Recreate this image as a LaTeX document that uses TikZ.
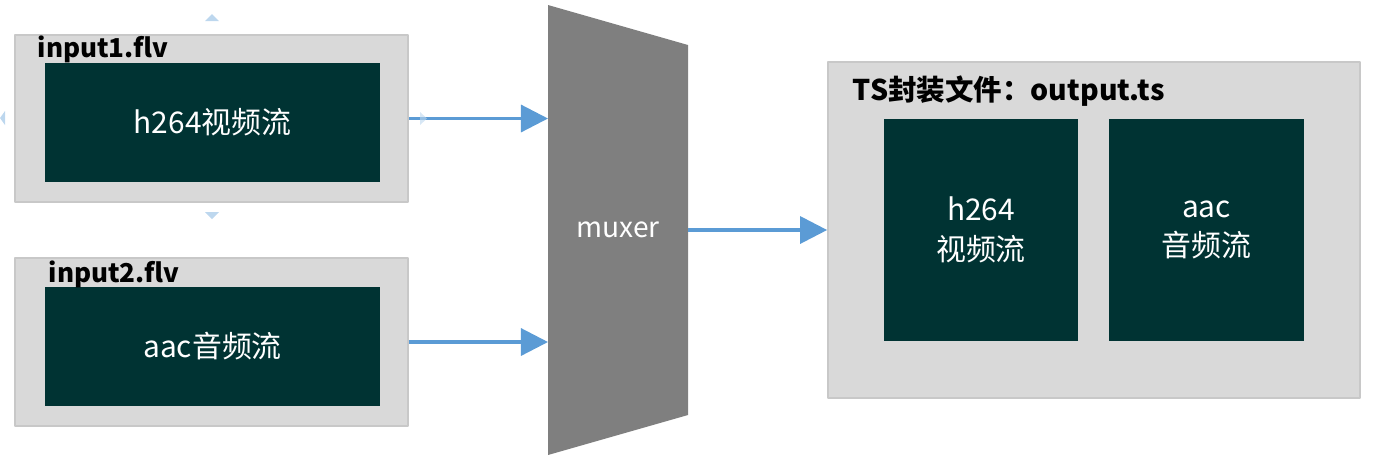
\documentclass[tikz,border=0pt]{standalone}
\usepackage{fontspec}
\setmainfont{Noto Sans CJK SC}
\usetikzlibrary{arrows.meta,positioning}
\definecolor{boxgray}{HTML}{D9D9D9}
\definecolor{edgegray}{HTML}{C8C8C8}
\definecolor{deepteal}{HTML}{003333}
\definecolor{muxgray}{HTML}{7F7F7F}
\definecolor{flowblue}{HTML}{5B9BD5}
\definecolor{handleblue}{HTML}{BDD7EE}
\tikzset{
  every picture/.style={line join=round, >=Stealth},
  filebox/.style={draw=edgegray, fill=boxgray, line width=0.4pt, inner sep=0pt},
  streambox/.style={fill=deepteal, text=white, inner sep=0pt, align=center, font=\fontsize{8.5}{11.3}\selectfont},
  filelabel/.style={font=\fontsize{7.4}{8}\selectfont\bfseries, inner sep=0pt, anchor=base west},
  flow/.style={-{Triangle[length=0.27cm,width=0.27cm]}, draw=flowblue, line width=0.9pt},
  handle/.style={fill=handleblue, draw=none},
}

\begin{document}
\begin{tikzpicture}[x=0.01cm,y=-0.01cm]
\useasboundingbox (0,0) rectangle (1380,460);
% input files
\node[filebox, minimum width=3.93cm, minimum height=1.67cm] (in1) at (211.5,118.5) {};
\node[streambox, minimum width=3.35cm, minimum height=1.19cm] (vid1) at (212.5,122.5) {h264视频流};
\node[filelabel] (lab1) at (37,57) {input1.flv};
\node[filebox, minimum width=3.93cm, minimum height=1.68cm] (in2) at (211.5,342) {};
\node[streambox, minimum width=3.35cm, minimum height=1.19cm] (aud1) at (212.5,346.5) {aac音频流};
\node[filelabel] (lab2) at (48,282) {input2.flv};
% selection handles
\fill[handle] (205,21)--(212,14)--(219,21)--cycle;
\fill[handle] (205,212)--(212,219)--(219,212)--cycle;
\fill[handle] (5,111)--(0,118)--(5,125)--cycle;
% muxer
\fill[muxgray] (548,5)--(688,45)--(688,415)--(548,455)--cycle;
\node[text=white, font=\fontsize{8}{9}\selectfont] (mux) at (618,230) {muxer};
\coordinate (mux-in1) at (548,118.5);
\coordinate (mux-in2) at (548,342);
\coordinate (mux-out) at (688,230);
% output file
\node[filebox, minimum width=5.32cm, minimum height=3.36cm] (ts) at (1094,230) {};
\node[filelabel, font=\fontsize{8.1}{9}\selectfont\bfseries] (tslab) at (852,100) {TS封装文件：output.ts};
\node[streambox, minimum width=1.94cm, minimum height=2.22cm] (vid2) at (981,230) {h264\\视频流};
\node[streambox, minimum width=1.95cm, minimum height=2.22cm] (aud2) at (1206.5,230) {aac\\音频流};
% flows
\draw[flow] (in1.east) -- (mux-in1);
\draw[flow] (in2.east) -- (mux-in2);
\draw[flow] (mux-out) -- (ts.west);
\fill[handle, opacity=0.6] (420,112)--(427,118.5)--(420,125)--cycle;
\end{tikzpicture}
\end{document}
